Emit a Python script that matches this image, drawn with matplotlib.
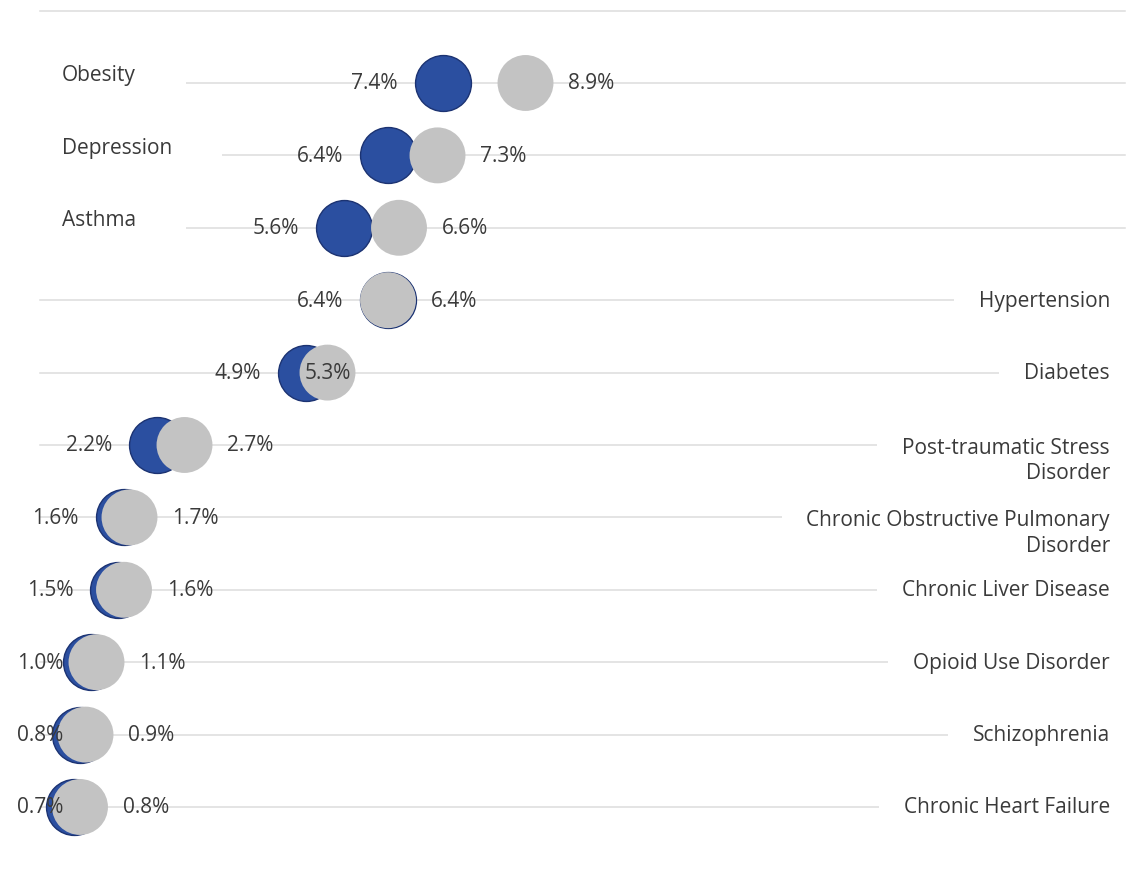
import numpy as np
import matplotlib.pyplot as plt
import matplotlib.transforms as mtransforms

plt.rcParams['font.family'] = ['Open Sans', 'DejaVu Sans']

# ---- data ----
conditions = ['Obesity', 'Depression', 'Asthma', 'Hypertension', 'Diabetes',
              'Post-traumatic Stress\nDisorder',
              'Chronic Obstructive Pulmonary\nDisorder',
              'Chronic Liver Disease', 'Opioid Use Disorder',
              'Schizophrenia', 'Chronic Heart Failure']
blue_vals = [7.4, 6.4, 5.6, 6.4, 4.9, 2.2, 1.6, 1.5, 1.0, 0.8, 0.7]
gray_vals = [8.9, 7.3, 6.6, 6.4, 5.3, 2.7, 1.7, 1.6, 1.1, 0.9, 0.8]
label_side = ['left', 'left', 'left', 'right', 'right', 'right', 'right',
              'right', 'right', 'right', 'right']

blue = '#2B4FA0'
blue_edge = '#1C3372'
gray = '#C3C3C3'
text_col = '#3A3A3A'
grid_col = '#DCDCDC'
fs = 15

fig = plt.figure(figsize=(11.43, 8.78), dpi=100)
ax = fig.add_axes([0, 0, 1, 1])
ax.set_xlim(-0.6545, 20.127)
ax.set_ylim(10.967, -1.160)
ax.axis('off')

rows = np.arange(len(conditions))

# grid lines (top one plus one per row)
for y in np.concatenate([[-1], rows]):
    ax.axhline(y, xmin=40 / 1143, xmax=1125 / 1143, color=grid_col, lw=1.1, zorder=0)

msize = 1620
ax.scatter(blue_vals, rows, s=msize, color=blue, edgecolors=blue_edge, linewidths=1.0, zorder=2)
ax.scatter(gray_vals, rows, s=msize, color=gray, edgecolors='none', zorder=3)

# value labels
for i, (b, g) in enumerate(zip(blue_vals, gray_vals)):
    bx = max(b - 0.82, 0.5)
    ax.text(bx, i, f'{b:.1f}%', ha='right', va='center', fontsize=fs,
            color=text_col, zorder=5)
    if conditions[i] == 'Diabetes':
        ax.text(g, i, f'{g:.1f}%', ha='center', va='center', fontsize=fs,
                color=text_col, zorder=5)
    else:
        ax.text(g + 0.78, i, f'{g:.1f}%', ha='left', va='center', fontsize=fs,
                color=text_col, zorder=5)

# category labels
trans = mtransforms.blended_transform_factory(ax.transAxes, ax.transData)
for i, (name, side) in enumerate(zip(conditions, label_side)):
    nlines = name.count('\n') + 1
    if side == 'left':
        ax.annotate(name, xy=(62 / 1143, i), xycoords=trans, xytext=(0, 6),
                    textcoords='offset points', ha='left', va='center',
                    fontsize=fs, color=text_col, zorder=6,
                    bbox=dict(boxstyle='square,pad=2.4', fc='white', ec='none'))
    else:
        ax.annotate(name, xy=(1110 / 1143, i), xycoords=trans,
                    xytext=(0, -(nlines - 1) * 10.8), textcoords='offset points',
                    ha='right', va='center', multialignment='right',
                    fontsize=fs, color=text_col, zorder=6, linespacing=1.3,
                    bbox=dict(boxstyle='square,pad=1.2', fc='white', ec='none'))

fig.savefig('out.png', dpi=100)
